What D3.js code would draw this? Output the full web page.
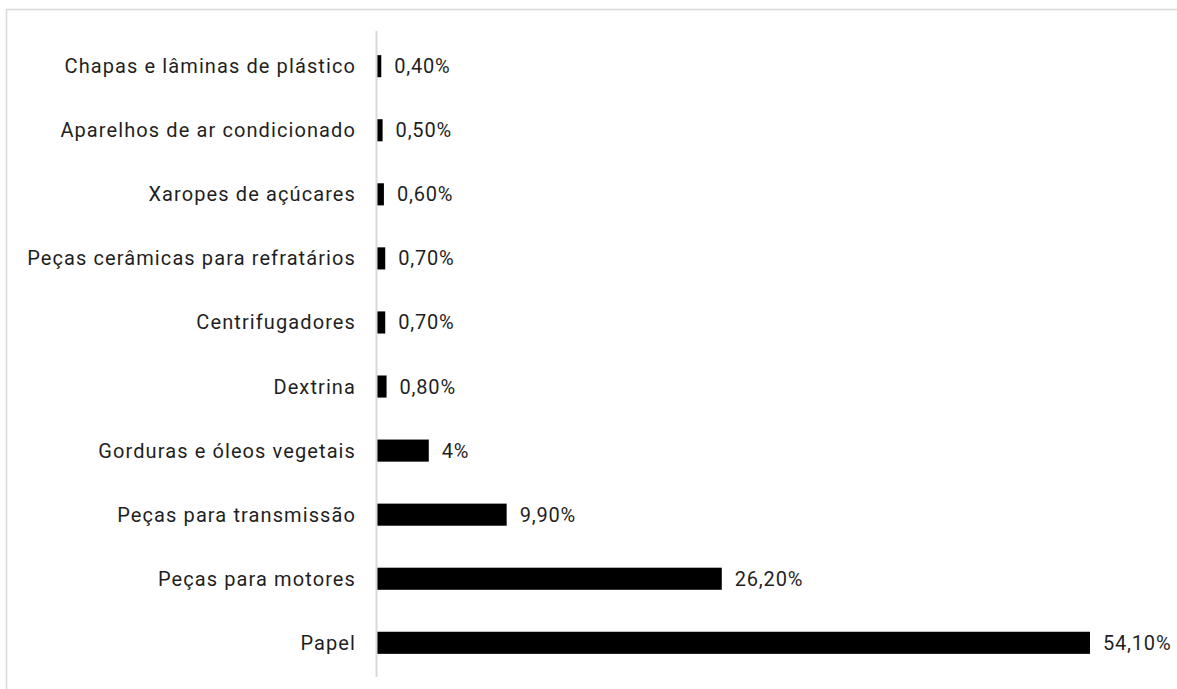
<!DOCTYPE html>
<html>
<head>
<meta charset="utf-8">
<script src="https://cdn.jsdelivr.net/npm/d3@7"></script>
<style>
  body { margin: 0; background: #fff; }
  text { font-family: Roboto, "Noto Sans", sans-serif; fill: #1f1f1f; font-weight: 400; }
</style>
</head>
<body>
<div id="chart"></div>
<script>
// categories top to bottom
const categories = [
  "Chapas e lâminas de plástico",
  "Aparelhos de ar condicionado",
  "Xaropes de açúcares",
  "Peças cerâmicas para refratários",
  "Centrifugadores",
  "Dextrina",
  "Gorduras e óleos vegetais",
  "Peças para transmissão",
  "Peças para motores",
  "Papel"
];
const values = [0.4, 0.5, 0.6, 0.7, 0.7, 0.8, 4, 9.9, 26.2, 54.1];
const valueLabels = ["0,40%", "0,50%", "0,60%", "0,70%", "0,70%", "0,80%", "4%", "9,90%", "26,20%", "54,10%"];

const data = categories.map((c, i) => ({ name: c, value: values[i], label: valueLabels[i] }));

const svgWidth = 1177;
const svgHeight = 689;
const margin = { top: 34, right: 87, bottom: 14, left: 376 };
const width = svgWidth - margin.left - margin.right;
const height = svgHeight - margin.top - margin.bottom;

const svg = d3.select("#chart")
    .append("svg")
    .attr("width", svgWidth)
    .attr("height", svgHeight);

// outer frame
svg.append("rect")
    .attr("x", 6.5)
    .attr("y", 9.5)
    .attr("width", svgWidth)
    .attr("height", svgHeight)
    .attr("fill", "none")
    .attr("stroke", "#d9d9d9")
    .attr("stroke-width", 1.5);

const chart = svg.append("g")
    .attr("transform", `translate(${margin.left},${margin.top})`);

const x = d3.scaleLinear()
    .domain([0, 54.1])
    .range([0, 714]);

const y = d3.scaleBand()
    .domain(categories)
    .range([0, height])
    .paddingInner(0.655)
    .paddingOuter(0.33);

chart.selectAll("rect.bar")
    .data(data)
    .join("rect")
    .attr("class", "bar")
    .attr("x", 0)
    .attr("y", d => y(d.name))
    .attr("width", d => x(d.value))
    .attr("height", y.bandwidth())
    .attr("fill", "#000");

// vertical axis line
chart.append("line")
    .attr("x1", 0.5).attr("x2", 0.5)
    .attr("y1", -3).attr("y2", height + 2)
    .attr("stroke", "#d9d9d9")
    .attr("stroke-width", 2);

chart.selectAll("text.cat")
    .data(data)
    .join("text")
    .attr("class", "cat")
    .attr("x", -20)
    .attr("y", d => y(d.name) + y.bandwidth() / 2)
    .attr("dy", "0.35em")
    .attr("text-anchor", "end")
    .style("font-size", "20px")
    .style("letter-spacing", "1.1px")
    .text(d => d.name);

chart.selectAll("text.val")
    .data(data)
    .join("text")
    .attr("class", "val")
    .attr("x", d => x(d.value) + 13)
    .attr("y", d => y(d.name) + y.bandwidth() / 2)
    .attr("dy", "0.35em")
    .style("font-size", "20px")
    .style("letter-spacing", "0.8px")
    .text(d => d.label);
</script>
</body>
</html>
